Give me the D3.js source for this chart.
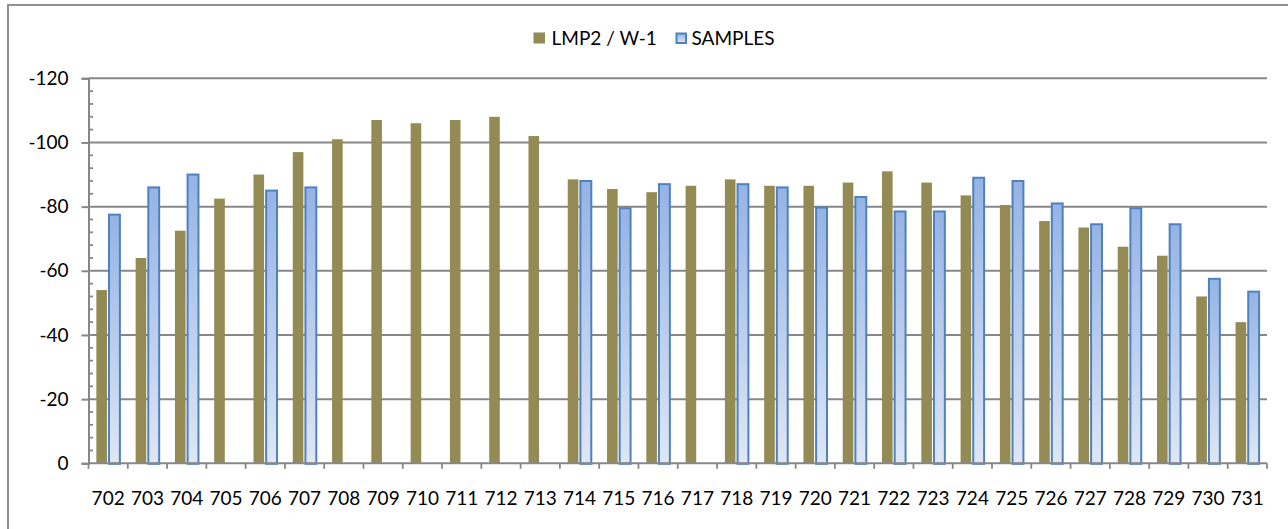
<!DOCTYPE html>
<html>
<head>
<meta charset="utf-8">
<script src="https://cdn.jsdelivr.net/npm/d3@7/dist/d3.min.js"></script>
<style>
  html, body { margin: 0; padding: 0; background: #fff; }
  svg { display: block; }
  text { font-family: Lato, "Open Sans", sans-serif; fill: #000; }
</style>
</head>
<body>
<script>
// ---- data ----
const categories = ["702","703","704","705","706","707","708","709","710","711","712","713","714","715","716","717","718","719","720","721","722","723","724","725","726","727","728","729","730","731"];
const lmpValues = [-54,-64,-72.5,-82.5,-90,-97,-101,-107,-106,-107,-108,-102,-88.5,-85.5,-84.5,-86.5,-88.5,-86.5,-86.5,-87.5,-91,-87.5,-83.5,-80.5,-75.5,-73.5,-67.5,-64.7,-52,-44];
const sampleValues = [-77.5,-86,-90,null,-85,-86,null,null,null,null,null,null,-88,-79.5,-87,null,-87,-86,-79.7,-83,-78.5,-78.5,-89,-88,-81,-74.5,-79.5,-74.5,-57.5,-53.5];
const yTicks = [0,-20,-40,-60,-80,-100,-120];
const seriesNames = ["LMP2 / W-1","SAMPLES"];

(function () {
const W = 1288, H = 529;
const FS = 19;
const svg = d3.select("body").append("svg").attr("width", W).attr("height", H);

const defs = svg.append("defs");
const grad = defs.append("linearGradient").attr("id","blueGrad")
  .attr("x1","0").attr("y1","0").attr("x2","0").attr("y2","1");
grad.append("stop").attr("offset","0%").attr("stop-color","#95b3e6");
grad.append("stop").attr("offset","100%").attr("stop-color","#dfe7f5");

// frame
svg.append("rect").attr("x", 8).attr("y", 5).attr("width", W + 20).attr("height", H + 20)
  .attr("fill", "none").attr("stroke", "#8f8f8f").attr("stroke-width", 2);

const pLeft = 88.5, pRight = 1267, pTop = 78.3, pBottom = 463.3;

const x = d3.scaleBand().domain(categories).range([pLeft, pRight]).padding(0);
const y = d3.scaleLinear().domain([0, -120]).range([pBottom, pTop]);
const bw = x.bandwidth();

const axisGray = "#878787";

// gridlines
svg.append("g").selectAll("line").data(yTicks.filter(d => d !== 0)).join("line")
  .attr("x1", pLeft).attr("x2", pRight)
  .attr("y1", d => y(d)).attr("y2", d => y(d))
  .attr("stroke", axisGray).attr("stroke-width", 2);

// minor ticks (inside)
const minor = d3.range(0, -121, -4).filter(d => d % 20 !== 0);
svg.append("g").selectAll("line").data(minor).join("line")
  .attr("x1", pLeft).attr("x2", pLeft + 4.5)
  .attr("y1", d => y(d)).attr("y2", d => y(d))
  .attr("stroke", axisGray).attr("stroke-width", 1.8);

// y axis
const yAxis = d3.axisLeft(y).tickValues(yTicks).tickSize(7).tickPadding(13).tickFormat(d => d === 0 ? "0" : String(d));
const gy = svg.append("g").attr("transform", `translate(${pLeft},0)`).call(yAxis);
gy.select(".domain").attr("stroke", axisGray).attr("stroke-width", 2);
gy.selectAll(".tick line").attr("stroke", axisGray).attr("stroke-width", 2);
gy.selectAll(".tick text").attr("font-size", FS).attr("font-family", "Lato, sans-serif").attr("fill", "#000");

// bars
const lmpColor = "#948a54";
svg.append("g").selectAll("rect").data(categories.map((c, i) => ({c, v: lmpValues[i]}))).join("rect")
  .attr("x", d => x(d.c) + bw * 0.2)
  .attr("width", bw * 0.27)
  .attr("y", d => y(d.v))
  .attr("height", d => y(0) - y(d.v))
  .attr("fill", lmpColor);

svg.append("g").selectAll("rect").data(categories.map((c, i) => ({c, v: sampleValues[i]})).filter(d => d.v !== null)).join("rect")
  .attr("x", d => x(d.c) + bw * 0.522)
  .attr("width", bw * 0.277)
  .attr("y", d => y(d.v))
  .attr("height", d => y(0) - y(d.v) + 0.5)
  .attr("fill", "url(#blueGrad)")
  .attr("stroke", "#4f81bd").attr("stroke-width", 2);

// x axis
const xAxis = d3.axisBottom(x).tickSize(0).tickPadding(28);
const gx = svg.append("g").attr("transform", `translate(0,${pBottom})`).call(xAxis);
gx.select(".domain").remove();
gx.selectAll(".tick text").attr("font-size", FS).attr("font-family", "Lato, sans-serif").attr("fill", "#000");
svg.append("line").attr("x1", pLeft).attr("x2", pRight).attr("y1", pBottom).attr("y2", pBottom)
  .attr("stroke", axisGray).attr("stroke-width", 2);
const bounds = categories.map(c => x(c)).concat([pRight]);
svg.append("g").selectAll("line").data(bounds).join("line")
  .attr("x1", d => d).attr("x2", d => d).attr("y1", pBottom).attr("y2", pBottom + 5.5)
  .attr("stroke", axisGray).attr("stroke-width", 1.8);

// legend
const lg = svg.append("g");
lg.append("rect").attr("x", 533.5).attr("y", 32.5).attr("width", 11.5).attr("height", 11).attr("fill", lmpColor);
lg.append("text").attr("x", 551.5).attr("y", 38).attr("dy", "0.35em").attr("font-size", FS).text(seriesNames[0]);
lg.append("rect").attr("x", 676.5).attr("y", 33.5).attr("width", 9.5).attr("height", 9.5)
  .attr("fill", "url(#blueGrad)").attr("stroke", "#4f81bd").attr("stroke-width", 2);
lg.append("text").attr("x", 691.5).attr("y", 38).attr("dy", "0.35em").attr("font-size", FS).text(seriesNames[1]);
})();
</script>
</body>
</html>
